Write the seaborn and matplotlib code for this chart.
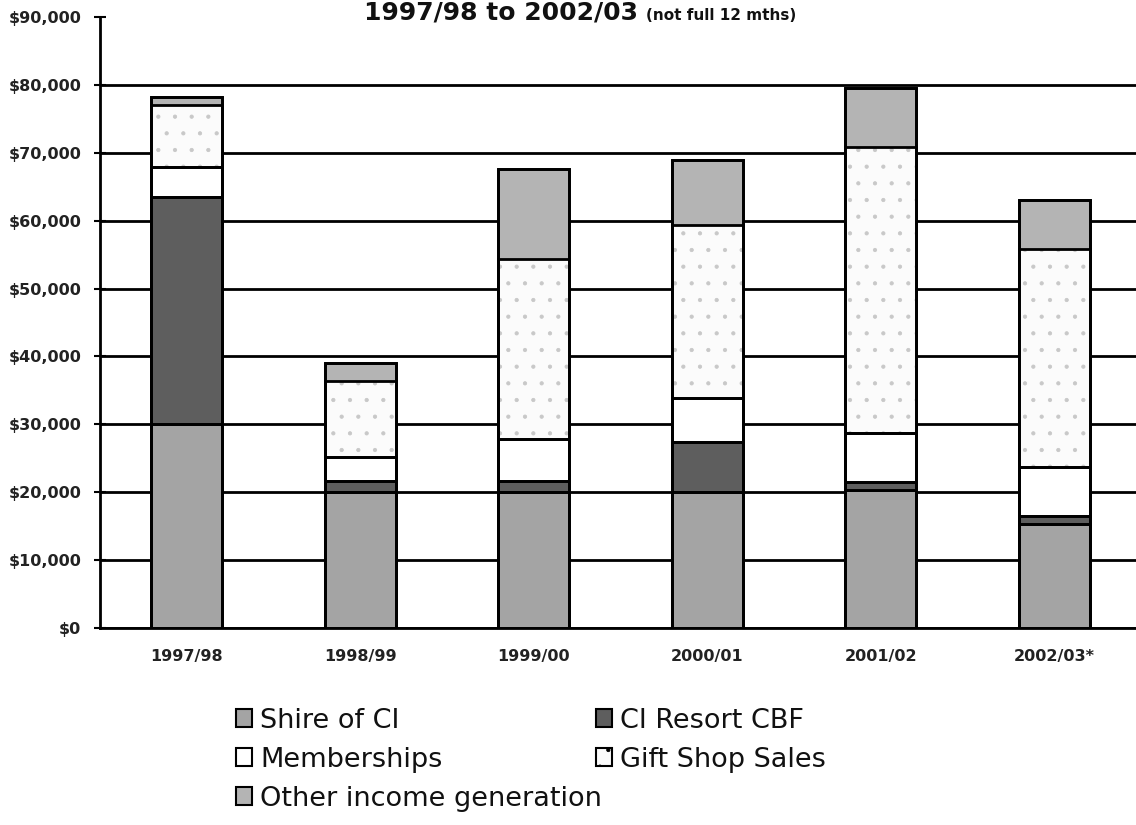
import numpy as np
import pandas as pd
import matplotlib
matplotlib.use("Agg")
import matplotlib.pyplot as plt
from matplotlib.patches import Patch
import seaborn as sns

years = ["1997/98", "1998/99", "1999/00", "2000/01", "2001/02", "2002/03*"]
shire = [30000, 20000, 20000, 20000, 20300, 15300]
cbf = [33500, 1600, 1700, 7400, 1200, 1200]
members = [4400, 3600, 6100, 6500, 7200, 7200]
gift = [9100, 11200, 26500, 25400, 42100, 32100]
other = [1200, 2600, 13300, 9600, 8700, 7200]

series = ["Shire of CI", "CI Resort CBF", "Memberships", "Gift Shop Sales", "Other income generation"]
colors = ["#a4a4a4", "#5e5e5e", "#ffffff", "#fbfbfb", "#b4b4b4"]

df = pd.DataFrame({"Year": years, series[0]: shire, series[1]: cbf,
                   series[2]: members, series[3]: gift, series[4]: other})
cum = df[series].cumsum(axis=1)

sns.set_style("white")
plt.rcParams["font.family"] = ["DejaVu Sans"]
plt.rcParams["hatch.linewidth"] = 0.6

fig = plt.figure(figsize=(11.36, 8.25), dpi=100)
ax = fig.add_axes([0.088, 0.2388, 0.9164, 0.7406])

# stacked bars: draw cumulative totals from the top layer down
for name, col in zip(series[::-1], colors[::-1]):
    n0 = len(ax.patches)
    sns.barplot(x=df["Year"], y=cum[name], color=col, width=0.41, saturation=1,
                edgecolor="black", linewidth=2, ax=ax, zorder=3)
    if name == "Gift Shop Sales":
        for p in ax.patches[n0:]:
            p.set_hatch(".")
            p.set_edgecolor("#c8c8c8")
            p.set_linewidth(0)

# outlines on top
for name in series:
    sns.barplot(x=df["Year"], y=cum[name], fill=False, width=0.41,
                edgecolor="black", linewidth=2, ax=ax, zorder=4)

ax.set_ylim(0, 90000)
ax.set_xlim(-0.5, 5.5)
ax.set_yticks(np.arange(0, 90001, 10000))
ax.set_yticklabels([f"${v:,.0f}" for v in np.arange(0, 90001, 10000)],
                   fontsize=11.5, fontweight="bold", color="#222222")
ax.set_xticks(range(len(years)))
ax.set_xticklabels(years, fontsize=11.5, fontweight="bold", color="#222222")
ax.set_xticks(np.arange(-0.5, 6, 1), minor=True)
ax.tick_params(axis="x", which="major", length=0, pad=15)
ax.tick_params(axis="x", which="minor", length=7, width=2, direction="out", color="black")
ax.tick_params(axis="y", length=9, width=1.5, direction="inout", pad=9, color="black", left=True)
ax.set_xlabel("")
ax.set_ylabel("")

ax.set_axisbelow(True)
ax.yaxis.grid(True, color="black", linewidth=2)
ax.get_ygridlines()[-1].set_visible(False)
for s in ["top", "right"]:
    ax.spines[s].set_visible(False)
for s in ["left", "bottom"]:
    ax.spines[s].set_color("black")
    ax.spines[s].set_linewidth(2)

fig.text(638 / 1136, 1 - 20 / 825, "1997/98 to 2002/03", ha="right", va="baseline",
         fontsize=18, fontweight="bold", color="#111111")
fig.text(646 / 1136, 1 - 20 / 825, "(not full 12 mths)", ha="left", va="baseline",
         fontsize=11, fontweight="bold", color="#111111")

def handle(i):
    return Patch(facecolor=colors[i], edgecolor="black", linewidth=1.5,
                 hatch="." if i == 3 else None)

leg_kw = dict(frameon=False, fontsize=19.5, handlelength=0.6, handleheight=0.6,
              handletextpad=0.3, labelspacing=0.48, borderpad=0, loc="upper left",
              labelcolor="#111111")
leg1 = fig.legend([handle(0), handle(2), handle(4)], [series[0], series[2], series[4]],
                  bbox_to_anchor=(222 / 1136, 1 - 694 / 825), **leg_kw)
leg2 = fig.legend([handle(1), handle(3)], [series[1], series[3]],
                  bbox_to_anchor=(582 / 1136, 1 - 694 / 825), **leg_kw)

fig.savefig("out.png", dpi=100)
